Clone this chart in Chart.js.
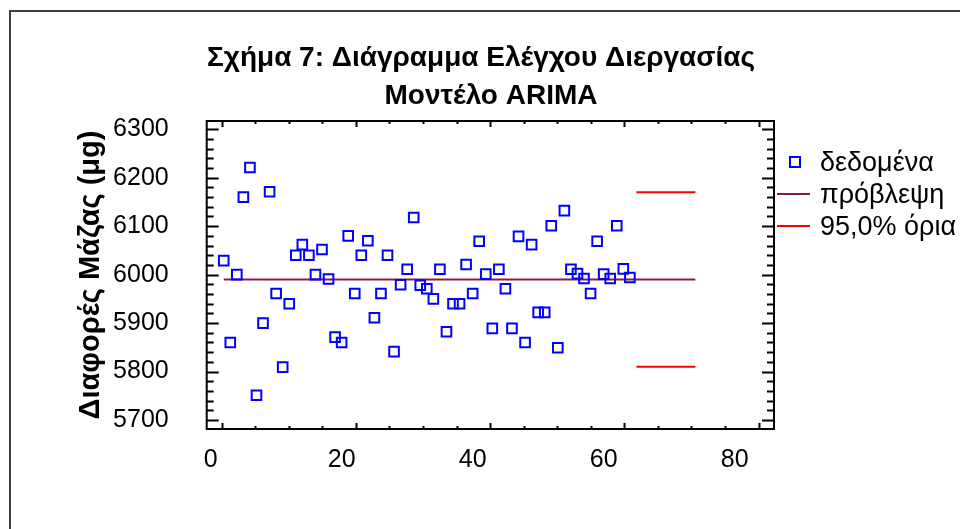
<!DOCTYPE html>
<html lang="el">
<head>
<meta charset="UTF-8">
<title>Σχήμα 7: Διάγραμμα Ελέγχου Διεργασίας</title>
<script src="https://cdn.jsdelivr.net/npm/chart.js"></script>
<style>
    html, body { margin: 0; padding: 0; background: #fff; }
</style>
</head>
<body>
<canvas id="chart" width="960" height="529"></canvas>
<script>
// observation periods and measured mass differences
const periods = [
    2, 3, 4, 5, 6, 7, 8, 9, 10, 11,
    12, 13, 14, 15, 16, 17, 18, 19, 20, 21,
    22, 23, 24, 25, 26, 27, 28, 29, 30, 31,
    32, 33, 34, 35, 36, 37, 38, 39, 40, 41,
    42, 43, 44, 45, 46, 47, 48, 49, 50, 51,
    52, 53, 54, 55, 56, 57, 58, 59, 60, 61,
    62, 63, 64
];
const massDiffs = [
    6029, 5860, 6000, 6160, 6221, 5751, 5900, 6171, 5961, 5809,
    5940, 6040, 6062, 6040, 6000, 6052, 5991, 5871, 5860, 6080,
    5961, 6040, 6070, 5911, 5961, 6040, 5841, 5979, 6011, 6118,
    5978, 5971, 5950, 6011, 5882, 5940, 5940, 6021, 5961, 6069,
    6001, 5889, 6011, 5971, 5889, 6079, 5860, 6062, 5922, 5922,
    6101, 5849, 6132, 6011, 6002, 5992, 5961, 6069, 6001, 5992,
    6101, 6012, 5994
];
// model forecast and 95% limits
const forecastX = [2, 74];
const forecastY = [5990, 5990];
const limitX = [65, 74];
const upperLimit = [6170, 6170];
const lowerLimit = [5810, 5810];

const xTickLabels = [0, 20, 40, 60, 80];
const yTickLabels = [5700, 5800, 5900, 6000, 6100, 6200, 6300];

const titleLines = ['Σχήμα 7: Διάγραμμα Ελέγχου Διεργασίας', 'Μοντέλο ARIMA'];
const legendLabels = ['δεδομένα', 'πρόβλεψη', '95,0% όρια'];

const FONT = "'Liberation Sans', Arial, sans-serif";
Chart.defaults.font.family = FONT;
Chart.defaults.color = '#000';

function toPoints(xs, ys) {
    return xs.map((x, i) => ({ x: x, y: ys[i] }));
}

// frame, inward tick marks, title and legend
const decorations = {
    id: 'decorations',
    afterDraw(chart) {
        const ctx = chart.ctx;
        const a = chart.chartArea;
        const y = chart.scales.y;
        const xt = chart.scales.xt;
        ctx.save();

        // outer border
        ctx.strokeStyle = '#404040';
        ctx.lineWidth = 2;
        ctx.strokeRect(10, 11, 1000, 600);

        // plot frame
        ctx.strokeStyle = '#000';
        ctx.lineWidth = 2;
        ctx.strokeRect(a.left, a.top, a.right - a.left, a.bottom - a.top);

        // y ticks left and right
        ctx.beginPath();
        for (let v = 5700; v <= 6300; v += 20) {
            const py = Math.round(y.getPixelForValue(v)) + 0.5;
            const len = v % 100 === 0 ? 12 : 7;
            ctx.moveTo(a.left, py); ctx.lineTo(a.left + len, py);
            ctx.moveTo(a.right, py); ctx.lineTo(a.right - len, py);
        }
        // x ticks bottom and top
        for (let v = 0; v <= 80; v += 5) {
            const px = Math.round(xt.getPixelForValue(v)) + 0.5;
            const len = v % 20 === 0 ? 6 : 3;
            ctx.moveTo(px, a.bottom); ctx.lineTo(px, a.bottom - len);
            ctx.moveTo(px, a.top); ctx.lineTo(px, a.top + len);
        }
        ctx.stroke();

        // title
        ctx.fillStyle = '#000';
        ctx.textAlign = 'center';
        ctx.textBaseline = 'middle';
        ctx.font = 'bold 28px ' + FONT;
        ctx.fillText(titleLines[0], 481, 58);
        ctx.fillText(titleLines[1], 491, 96);

        // legend
        const rows = [162, 194, 226];
        ctx.textAlign = 'left';
        ctx.font = '27px ' + FONT;
        ctx.strokeStyle = '#0000ff';
        ctx.lineWidth = 2;
        ctx.strokeRect(790, rows[0] - 5, 10, 10);
        ctx.strokeStyle = '#8b1a4a';
        ctx.beginPath(); ctx.moveTo(777, rows[1]); ctx.lineTo(810, rows[1]); ctx.stroke();
        ctx.strokeStyle = '#ff0000';
        ctx.beginPath(); ctx.moveTo(777, rows[2]); ctx.lineTo(810, rows[2]); ctx.stroke();
        legendLabels.forEach((t, i) => ctx.fillText(t, 820, rows[i] + 2));

        ctx.restore();
    }
};

new Chart(document.getElementById('chart'), {
    type: 'scatter',
    data: {
        datasets: [
            {
                label: legendLabels[0],
                data: toPoints(periods, massDiffs),
                pointStyle: 'rect',
                pointRadius: 6.8,
                borderColor: '#0000ff',
                backgroundColor: 'rgba(0,0,0,0)',
                borderWidth: 2,
                showLine: false
            },
            {
                label: legendLabels[1],
                type: 'line',
                data: toPoints(forecastX, forecastY),
                borderColor: '#8b1a4a',
                borderWidth: 2,
                pointRadius: 0,
                fill: false
            },
            {
                label: legendLabels[2],
                type: 'line',
                data: toPoints(limitX, upperLimit),
                borderColor: '#ff0000',
                borderWidth: 2,
                pointRadius: 0,
                fill: false
            },
            {
                label: legendLabels[2],
                type: 'line',
                data: toPoints(limitX, lowerLimit),
                borderColor: '#ff0000',
                borderWidth: 2,
                pointRadius: 0,
                fill: false
            }
        ]
    },
    options: {
        responsive: false,
        animation: false,
        devicePixelRatio: 1,
        layout: { padding: { left: 70, top: 121, right: 186, bottom: 0 } },
        plugins: {
            legend: { display: false },
            title: { display: false },
            tooltip: { enabled: false }
        },
        scales: {
            x: {
                type: 'linear',
                min: -0.6,
                max: 86,
                afterBuildTicks: s => { s.ticks = xTickLabels.map(v => ({ value: v })); },
                afterFit: s => { s.height = 100; },
                grid: { display: false },
                border: { display: false },
                ticks: { font: { size: 25 }, padding: 8, maxRotation: 0, autoSkip: false,
                         callback: v => String(v) }
            },
            // tick-mark scale of the original axis
            xt: {
                type: 'linear',
                position: 'top',
                display: false,
                min: -2.24,
                max: 82.3
            },
            y: {
                min: 5681.4,
                max: 6317.1,
                afterBuildTicks: s => { s.ticks = yTickLabels.map(v => ({ value: v })); },
                afterFit: s => { s.width = 136.7; },
                grid: { display: false },
                border: { display: false },
                ticks: { font: { size: 25 }, padding: 30, callback: v => String(v) },
                title: {
                    display: true,
                    text: 'Διαφορές Μάζας (μg)',
                    font: { size: 29, weight: 'bold' },
                    padding: { top: 4, bottom: 4 }
                }
            }
        }
    },
    plugins: [decorations]
});
</script>
</body>
</html>
